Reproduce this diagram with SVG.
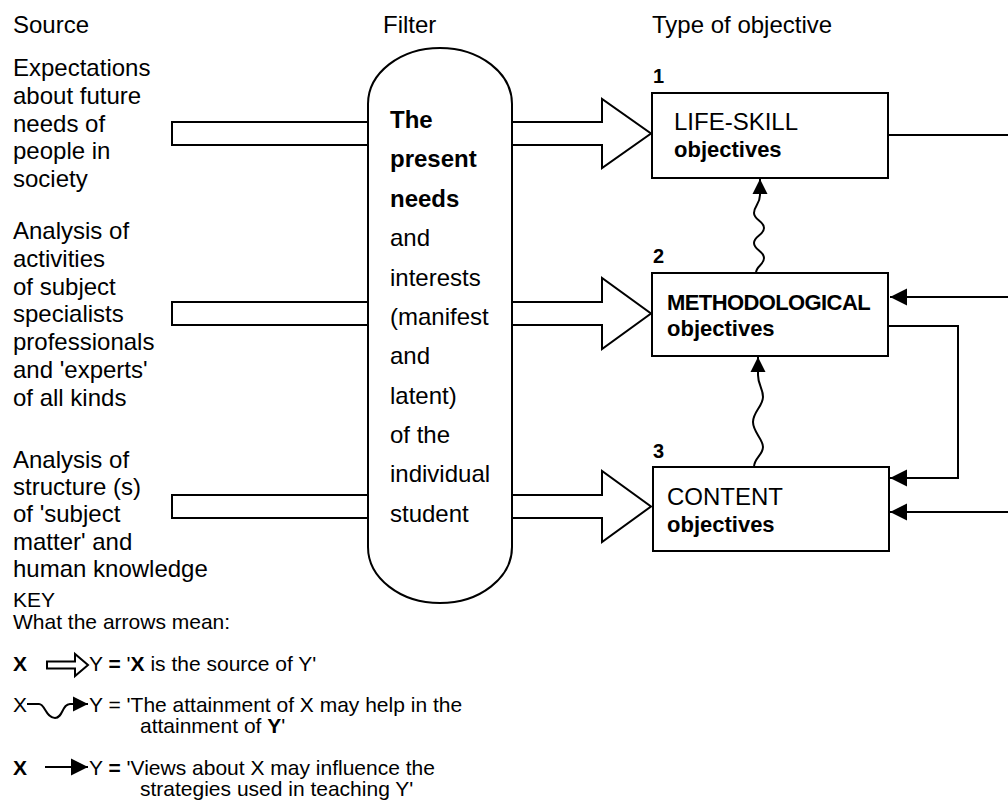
<svg xmlns="http://www.w3.org/2000/svg" width="1008" height="805" viewBox="0 0 1008 805">
<style>
text{font-family:"Liberation Sans",Arial,sans-serif;fill:#000}
.hd{font-size:24px}
.src{font-size:24px}
.flt{font-size:24px}
.bx{font-size:24px}
.ob{font-size:22px;font-weight:bold}
.b{font-weight:bold}
.num{font-size:20px;font-weight:bold}
.key{font-size:21px}
.hol{fill:#fff;stroke:#000;stroke-width:2;stroke-linejoin:miter}
.box{fill:#fff;stroke:#000;stroke-width:2}
.ln{fill:none;stroke:#000;stroke-width:2}
</style>
<defs>
<marker id="tri" viewBox="0 0 10 10" refX="10" refY="5" markerUnits="userSpaceOnUse" markerWidth="17" markerHeight="18" orient="auto">
<path d="M0,0 L10,5 L0,10 Z" fill="#000"/>
</marker>
<marker id="tri2" viewBox="0 0 10 10" refX="10" refY="5" markerUnits="userSpaceOnUse" markerWidth="15" markerHeight="20" orient="auto">
<path d="M0,0 L10,5 L0,10 Z" fill="#000"/>
</marker>
</defs>

<g id="headers">
<text class="hd" x="13" y="33">Source</text>
<text class="hd" x="383" y="33">Filter</text>
<text class="hd" x="652" y="33">Type of objective</text>
</g>

<g id="source1">
<text class="src" x="13" y="76">Expectations</text>
<text class="src" x="13" y="104">about future</text>
<text class="src" x="13" y="132">needs of</text>
<text class="src" x="13" y="159">people in</text>
<text class="src" x="13" y="187">society</text>
</g>
<g id="source2">
<text class="src" x="13" y="239">Analysis of</text>
<text class="src" x="13" y="267">activities</text>
<text class="src" x="13" y="295">of subject</text>
<text class="src" x="13" y="322">specialists</text>
<text class="src" x="13" y="350">professionals</text>
<text class="src" x="13" y="378">and 'experts'</text>
<text class="src" x="13" y="406">of all kinds</text>
</g>
<g id="source3">
<text class="src" x="13" y="468">Analysis of</text>
<text class="src" x="13" y="495">structure (s)</text>
<text class="src" x="13" y="522">of 'subject</text>
<text class="src" x="13" y="550">matter' and</text>
<text class="src" x="13" y="577">human knowledge</text>
</g>

<g id="connectors">
<polygon class="hol" points="172,122 602,122 602,99 651,133.5 602,168 602,145 172,145"/>
<polygon class="hol" points="172,302 602,302 602,278 651,313.5 602,349 602,325 172,325"/>
<polygon class="hol" points="172,495 602,495 602,471 651,506.5 602,542 602,518 172,518"/>
<path class="ln" d="M888,135 L1008,135"/>
<path class="ln" d="M1008,297 L890,297" marker-end="url(#tri)"/>
<path class="ln" d="M888,326 L958,326 L958,478 L890,478" marker-end="url(#tri)"/>
<path class="ln" d="M1008,512 L890,512" marker-end="url(#tri)"/>
<path class="ln" d="M756,273 C756,266 764,265 764,258 S754,250 754,243 S764,235 764,228 S754,220 754,213 S760,204 760,195 L760,179" marker-end="url(#tri2)"/>
<path class="ln" d="M754,467 C754,458 763,455 763,447 S753,432 753,422 S763,406 763,397 S758,385 758,375 L758,357" marker-end="url(#tri2)"/>
</g>

<g id="filter">
<path class="box" d="M368,104 A72,56 0 0 1 512,104 L512,547 A72,56 0 0 1 368,547 Z"/>
<text class="flt b" x="390" y="128">The</text>
<text class="flt b" x="390" y="167">present</text>
<text class="flt b" x="390" y="207">needs</text>
<text class="flt" x="390" y="246">and</text>
<text class="flt" x="390" y="286">interests</text>
<text class="flt" x="390" y="325">(manifest</text>
<text class="flt" x="390" y="364">and</text>
<text class="flt" x="390" y="404">latent)</text>
<text class="flt" x="390" y="443">of the</text>
<text class="flt" x="390" y="482">individual</text>
<text class="flt" x="390" y="522">student</text>
</g>

<g id="obj1">
<text class="num" x="653" y="83">1</text>
<rect class="box" x="652" y="93" width="236" height="85"/>
<text class="bx" x="674" y="130">LIFE-SKILL</text>
<text class="ob" x="674" y="157">objectives</text>
</g>
<g id="obj2">
<text class="num" x="653" y="263">2</text>
<rect class="box" x="652" y="273" width="236" height="83"/>
<text class="ob" x="667" y="310" letter-spacing="-0.6">METHODOLOGICAL</text>
<text class="ob" x="667" y="336">objectives</text>
</g>
<g id="obj3">
<text class="num" x="653" y="458">3</text>
<rect class="box" x="653" y="467" width="236" height="84"/>
<text class="bx" x="667" y="505">CONTENT</text>
<text class="ob" x="667" y="532">objectives</text>
</g>

<g id="key">
<text class="key" x="13" y="607">KEY</text>
<text class="key" x="13" y="629">What the arrows mean:</text>
<text class="key b" x="13" y="671">X</text>
<polygon class="hol" stroke-width="1.5" points="47,661.5 75,661.5 75,654 88,665 75,676 75,668.5 47,668.5"/>
<text class="key" x="89" y="671">Y <tspan class="b">=</tspan> '<tspan class="b">X</tspan> is the source of Y'</text>
<text class="key" x="13" y="712">X</text>
<path class="ln" d="M27,704 L39,704 C45,704 46,718 55,718 C63,718 62,704 70,704 L88,704" marker-end="url(#tri2)" stroke-width="1.5"/>
<text class="key" x="89" y="712">Y = 'The attainment of X may help in the</text>
<text class="key" x="140" y="733">attainment of <tspan class="b">Y</tspan>'</text>
<text class="key b" x="13" y="775">X</text>
<path class="ln" d="M45,767 L88,767" marker-end="url(#tri)" stroke-width="1.5"/>
<text class="key" x="89" y="775">Y <tspan class="b">=</tspan> 'Views about X may influence the</text>
<text class="key" x="140" y="796">strategies used in teaching Y'</text>
</g>
</svg>
